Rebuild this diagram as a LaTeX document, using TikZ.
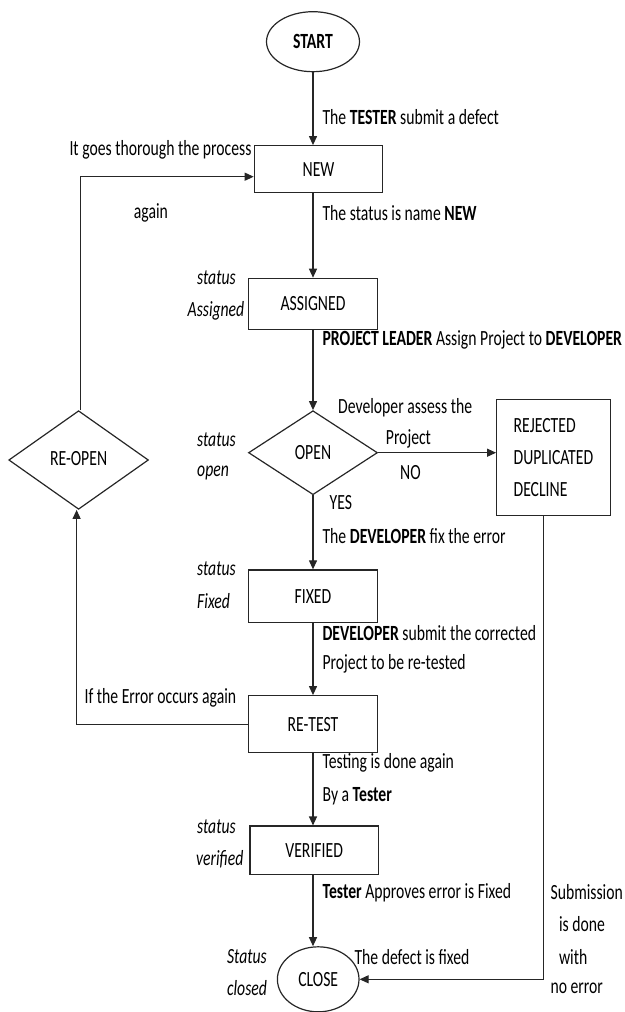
\documentclass[tikz,border=0pt]{standalone}
\usepackage{fontspec}
\setmainfont{Carlito}
\usetikzlibrary{arrows.meta,shapes.geometric}
\newcommand{\vs}[1]{\scalebox{1}[1.38]{#1}}
\begin{document}
\begin{tikzpicture}[x=1pt,y=-1pt,
  every node/.style={font=\fontsize{15.7}{18}\selectfont, text=black},
  lbl/.style={anchor=west, inner sep=0pt},
  stbox/.style={draw=black!85, rectangle, line width=1.2pt, inner sep=0pt},
  stell/.style={draw=black!85, ellipse, line width=1.2pt, inner sep=0pt},
  stdia/.style={draw=black!85, diamond, line width=1.2pt, inner sep=0pt},
  arr/.style={draw=black!85, line width=1.2pt, -{Triangle[length=9pt,width=8pt]}},
  ln/.style={draw=black!85, line width=1.2pt}]
\useasboundingbox (0,0) rectangle (624,1012);

% states
\node[stell, minimum width=93pt, minimum height=60pt] (start) at (313,41.7) {\vs{\textbf{START}}};
\node[stbox, minimum width=128.4pt, minimum height=47pt] (new) at (318.5,169.2) {\vs{NEW}};
\node[stbox, minimum width=128.6pt, minimum height=51pt] (assigned) at (313,303.8) {\vs{ASSIGNED}};
\node[stdia, minimum width=129pt, minimum height=84pt] (open) at (313,452.7) {\vs{OPEN}};
\node[stbox, minimum width=113.4pt, minimum height=116pt, align=left,
      font=\fontsize{15.7}{32}\selectfont] (rej) at (553.4,457.3)
      {\vs{REJECTED}\\\vs{DUPLICATED}\\\vs{DECLINE}};
\node[stdia, minimum width=139.7pt, minimum height=98.6pt] (reopen) at (78.6,460) {\raisebox{4pt}{\vs{RE-OPEN}}};
\node[stbox, minimum width=128.6pt, minimum height=52.7pt] (fixed) at (313,596.3) {\vs{FIXED}};
\node[stbox, minimum width=128.6pt, minimum height=57pt] (retest) at (313,724.2) {\vs{RE-TEST}};
\node[stbox, minimum width=128.6pt, minimum height=48.3pt] (verified) at (314.2,850.2) {\vs{VERIFIED}};
\node[stell, minimum width=81.6pt, minimum height=65pt] (close) at (318.2,979.3) {\vs{CLOSE}};

% connectors
\draw[arr] (start.south) -- (start.south |- new.north);
\draw[arr] (new.south -| assigned) -- (assigned.north);
\draw[arr] (assigned.south) -- (open.north);
\draw[arr] (open.south) -- (fixed.north);
\draw[arr] (fixed.south) -- (retest.north);
\draw[arr] (retest.south) -- (retest.south |- verified.north);
\draw[arr] (verified.south -| retest) -- (retest |- close.north);
\draw[arr] (open.east) -- (open.east -| rej.west);
\draw[arr] ([xshift=-10pt]rej.south) |- (close.east);
\draw[arr] ([xshift=2pt]reopen.north) |- ([yshift=-7.5pt]new.west);
\draw[arr] (retest.west) -| ([xshift=-2pt]reopen.south);

% labels
\node[lbl] (l1) at (322.4,116.7) {\vs{The \textbf{TESTER} submit a defect}};
\node[lbl] (l2) at (69.3,150) {\vs{It goes thorough the process}};
\node[lbl] (l3) at (133.7,213) {\vs{again}};
\node[lbl] (l4) at (322.4,213) {\vs{The status is name \textbf{NEW}}};
\node[lbl] (l5) at (197,278) {\vs{\textit{status}}};
\node[lbl] (l6) at (187.5,311) {\vs{\textit{Assigned}}};
\node[lbl] (l7) at (322.4,340) {\vs{\textbf{PROJECT LEADER} Assign Project to \textbf{DEVELOPER}}};
\node[lbl] (l8) at (338,407.7) {\vs{Developer assess the}};
\node[lbl] (l9) at (385.7,439) {\vs{Project}};
\node[lbl] (l10) at (400,472.7) {\vs{NO}};
\node[lbl] (l11) at (329.5,503) {\vs{YES}};
\node[lbl] (l12) at (197,440) {\vs{\textit{status}}};
\node[lbl] (l13) at (197,473.3) {\vs{\textit{open}}};
\node[lbl] (l14) at (322.4,536) {\vs{The \textbf{DEVELOPER} fix the error}};
\node[lbl] (l15) at (197,569) {\vs{\textit{status}}};
\node[lbl] (l16) at (197,601) {\vs{\textit{Fixed}}};
\node[lbl] (l17) at (322.4,633.3) {\vs{\textbf{DEVELOPER} submit the corrected}};
\node[lbl] (l18) at (322.4,664.3) {\vs{Project to be re-tested}};
\node[lbl] (l19) at (84.4,698.3) {\vs{If the Error occurs again}};
\node[lbl] (l20) at (322.4,763.3) {\vs{Testing is done again}};
\node[lbl] (l21) at (322.4,796) {\vs{By a \textbf{Tester}}};
\node[lbl] (l22) at (197,826.7) {\vs{\textit{status}}};
\node[lbl] (l23) at (196,859) {\vs{\textit{verified}}};
\node[lbl] (l24) at (322.4,892.3) {\vs{\textbf{Tester} Approves error is Fixed}};
\node[lbl] (l25) at (226.9,956.7) {\vs{\textit{Status}}};
\node[lbl] (l26) at (226.9,988.3) {\vs{\textit{closed}}};
\node[lbl] (l27) at (354.3,956.7) {\vs{The defect is fixed}};
\node[lbl] (l28) at (550.4,891.7) {\vs{Submission}};
\node[lbl] (l29) at (558.8,924.3) {\vs{is done}};
\node[lbl] (l30) at (558.8,956.7) {\vs{with}};
\node[lbl] (l31) at (550.4,988) {\vs{no error}};
\end{tikzpicture}
\end{document}
